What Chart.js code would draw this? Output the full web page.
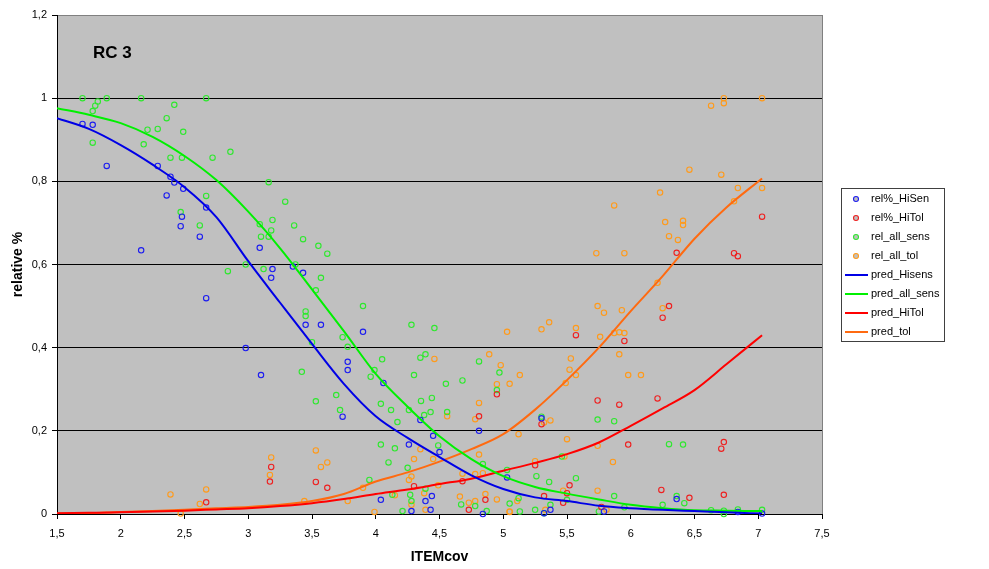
<!DOCTYPE html>
<html lang="en">

<head>
    <meta charset="UTF-8">
    <title>RC 3</title>
    <script src="https://cdnjs.cloudflare.com/ajax/libs/Chart.js/4.4.0/chart.umd.min.js"></script>
    <style>
        body { margin: 0; background: #fff; }
        #wrap { width: 989px; height: 569px; }
    </style>
</head>

<body>
    <div id="wrap"><canvas id="myChart" width="989" height="569"></canvas></div>
    <script>
        // observed shares, high-sensitivity group
        var hiSenX = [1.70, 1.78, 1.89, 2.29, 2.39, 2.42, 2.49, 2.36, 2.48, 2.47, 2.67, 2.62, 2.16, 3.09, 2.67, 3.19,
            3.18, 3.35, 3.43, 3.45, 3.57, 3.90, 2.98, 3.78, 3.78, 3.10, 3.74, 4.06, 4.35, 4.45, 4.50, 4.26, 4.81, 5.03,
            5.30, 4.04, 4.39, 4.44, 4.28, 4.43, 4.84, 5.37, 5.32, 5.79, 6.36, 6.84, 7.03];
        var hiSenY = [0.938, 0.936, 0.837, 0.837, 0.811, 0.797, 0.782, 0.766, 0.715, 0.692, 0.737, 0.667, 0.634, 0.640,
            0.519, 0.589, 0.568, 0.595, 0.580, 0.455, 0.455, 0.438, 0.399, 0.366, 0.346, 0.334, 0.234, 0.315, 0.226,
            0.188, 0.149, 0.167, 0.200, 0.088, 0.230, 0.034, 0.031, 0.043, 0.007, 0.010, 0, 0.010, 0.002, 0.006, 0.036,
            0.005, 0.001];

        // observed shares, high-tolerance group
        var hiTolX = [2.67, 3.18, 3.17, 3.53, 3.62, 4.30, 4.81, 4.68, 4.73, 4.86, 4.95, 5.25, 5.32, 5.30, 5.57, 5.95,
            6.30, 6.25, 5.74, 5.91, 6.21, 5.98, 5.52, 5.50, 6.24, 5.47, 5.77, 7.03, 6.36, 6.81, 6.84, 6.73, 6.71, 6.46,
            6.73];
        var hiTolY = [0.028, 0.113, 0.078, 0.077, 0.063, 0.067, 0.235, 0.079, 0.010, 0.034, 0.288, 0.117, 0.043, 0.216,
            0.430, 0.416, 0.500, 0.472, 0.273, 0.263, 0.278, 0.167, 0.069, 0.050, 0.058, 0.027, 0.017, 0.715, 0.628,
            0.627, 0.620, 0.173, 0.157, 0.039, 0.046];

        // all sensitive
        var allSensX = [1.70, 1.89, 2.16, 2.67, 1.82, 1.80, 1.78, 2.42, 2.36, 2.21, 2.29, 2.49, 1.78, 2.18, 2.39, 2.48,
            2.72, 2.86, 3.16, 3.29, 2.67, 2.47, 2.62, 3.09, 3.19, 3.36, 3.10, 3.18, 3.16,
            3.43, 3.55, 3.62, 2.98, 2.84, 3.12, 3.37, 3.57, 3.53, 3.90, 3.45, 3.45, 3.74, 3.78, 3.50, 4.28, 4.46, 4.39,
            4.35, 4.05, 3.42, 3.53, 3.69, 3.72,
            3.99, 3.96, 4.30, 4.55, 4.68, 4.81, 4.97, 4.95, 4.04, 4.12, 4.26, 4.355, 4.38, 4.44, 4.43, 4.17, 4.56, 4.04,
            4.15, 4.10, 4.49, 4.25, 3.95, 4.84, 5.03, 5.26, 5.36, 4.39, 4.13, 4.27, 4.28, 4.67, 4.78, 5.05, 5.12, 4.21,
            4.87, 5.13, 5.25, 5.37,
            5.30, 5.74, 5.87, 6.30, 6.41, 5.46, 5.57, 5.32, 5.50, 5.87, 5.95, 6.25, 6.36, 5.75, 6.42, 6.63, 6.73, 6.73,
            6.84, 7.03];
        var allSensY = [1.00, 1.00, 1.00, 1.00, 0.992, 0.982, 0.969, 0.984, 0.952, 0.924, 0.926, 0.919, 0.893, 0.889,
            0.857, 0.857, 0.857, 0.871, 0.798, 0.751, 0.765, 0.726, 0.694, 0.697, 0.707, 0.694, 0.667, 0.682, 0.667,
            0.661, 0.645, 0.626, 0.600, 0.584, 0.589, 0.600, 0.568, 0.538, 0.500, 0.487, 0.476, 0.425, 0.402, 0.413,
            0.455, 0.447, 0.384, 0.376, 0.372, 0.342, 0.271, 0.286, 0.250,
            0.346, 0.330, 0.334, 0.313, 0.321, 0.367, 0.340, 0.298, 0.265, 0.250, 0.250, 0.272, 0.238, 0.279, 0.245,
            0.221, 0.245, 0.167, 0.158, 0.124, 0.165, 0.111, 0.082, 0.120, 0.106, 0.091, 0.077, 0.061, 0.046, 0.046,
            0.031, 0.023, 0.019, 0.025, 0.038, 0.007, 0.007, 0.006, 0.010, 0.022,
            0.234, 0.227, 0.223, 0.168, 0.167, 0.138, 0.086, 0.002, 0.034, 0.043, 0.016, 0.022, 0.043, 0.006, 0.026,
            0.009, 0.008, 0, 0.011, 0.010];

        // all tolerant
        var allTolX = [2.39, 2.47, 2.62, 2.67, 3.18, 3.17, 3.44, 3.78, 3.53, 3.57, 3.62, 3.90, 3.99, 4.15, 4.26, 4.28,
            4.30, 4.35, 4.45, 4.46, 4.49, 4.38, 4.39, 4.28, 4.56, 4.78, 4.81, 4.81, 4.68, 4.78, 4.84, 4.66, 4.73, 4.78,
            4.86, 4.95, 5.05, 5.11, 5.03, 4.89, 4.98, 5.13, 5.05, 4.95, 5.30, 5.36, 5.12, 5.25, 5.37, 5.33,
            5.57, 5.74, 5.79, 5.93, 5.76, 5.87, 5.91, 5.95, 6.25, 5.53, 5.52, 5.57, 5.49, 5.91, 5.98, 6.08, 5.32, 5.50,
            5.74, 5.86, 5.48, 5.47, 5.74, 5.81, 5.05,
            6.73, 6.73, 6.63, 7.03, 6.46, 6.71, 6.23, 6.84, 7.03, 5.87, 6.81, 6.27, 6.41, 6.41, 6.30, 6.37, 5.73, 5.95,
            6.21];
        var allTolY = [0.047, 0.001, 0.024, 0.059, 0.136, 0.094, 0.031, 0.031, 0.153, 0.113, 0.124, 0.063, 0.005, 0.045,
            0.082, 0.090, 0.132, 0.156, 0.132, 0.373, 0.069, 0.050, 0.010, 0.022, 0.235, 0.228, 0.267, 0.143, 0.097,
            0.096, 0.098, 0.042, 0.027, 0.031, 0.048, 0.035, 0.005, 0.031, 0.438, 0.384, 0.358, 0.334, 0.313, 0.312,
            0.444, 0.461, 0.192, 0.127, 0.225, 0.010,
            0.447, 0.500, 0.484, 0.490, 0.426, 0.435, 0.437, 0.435, 0.495, 0.374, 0.347, 0.334, 0.315, 0.384, 0.334,
            0.334, 0.220, 0.180, 0.164, 0.125, 0.138, 0.056, 0.056, 0.010, 0.006,
            1.000, 0.988, 0.982, 1.000, 0.828, 0.816, 0.773, 0.784, 0.784, 0.742, 0.752, 0.702, 0.705, 0.695, 0.668,
            0.659, 0.627, 0.627, 0.556];

        // fitted curves
        var predX = [1.5, 1.75, 2, 2.25, 2.5, 2.75, 3, 3.25, 3.5, 3.75, 4, 4.25, 4.5, 4.75, 5, 5.25, 5.5, 5.75, 6,
            6.25, 6.5, 6.75, 7.03];
        var predHiSens = [0.952, 0.926, 0.887, 0.840, 0.786, 0.714, 0.608, 0.508, 0.409, 0.313, 0.235, 0.183, 0.137,
            0.093, 0.060, 0.040, 0.031, 0.020, 0.014, 0.010, 0.007, 0.004, 0.001];
        var predAllSens = [0.976, 0.960, 0.940, 0.907, 0.861, 0.803, 0.727, 0.639, 0.540, 0.440, 0.337, 0.258, 0.187,
            0.132, 0.091, 0.065, 0.049, 0.035, 0.022, 0.014, 0.009, 0.008, 0.007];
        var predHiTol = [0.002, 0.003, 0.004, 0.006, 0.008, 0.011, 0.014, 0.019, 0.026, 0.036, 0.048, 0.059, 0.072,
            0.085, 0.104, 0.123, 0.144, 0.172, 0.212, 0.254, 0.298, 0.360, 0.430];
        var predTol = [0.001, 0.002, 0.005, 0.007, 0.010, 0.014, 0.017, 0.022, 0.031, 0.048, 0.078, 0.100, 0.126,
            0.156, 0.192, 0.251, 0.322, 0.400, 0.488, 0.572, 0.662, 0.737, 0.807];

        var xTickLabels = ['1,5', '2', '2,5', '3', '3,5', '4', '4,5', '5', '5,5', '6', '6,5', '7', '7,5'];
        var yTickLabels = ['0', '0,2', '0,4', '0,6', '0,8', '1', '1,2'];

        function pts(xs, ys) {
            var out = [];
            for (let i = 0; i < xs.length; i++) out.push({ x: xs[i], y: ys[i] });
            return out;
        }

        function dots(label, xs, ys, color) {
            return {
                label: label,
                data: pts(xs, ys),
                showLine: false,
                pointStyle: 'circle',
                pointRadius: 2.7,
                pointBorderWidth: 1.1,
                pointBorderColor: color,
                pointBackgroundColor: 'rgba(0,0,0,0)',
                borderColor: color,
                clip: false,
                order: 1
            };
        }

        function curve(label, ys, color) {
            return {
                label: label,
                data: pts(predX, ys),
                showLine: true,
                borderColor: color,
                borderWidth: 2,
                pointRadius: 0,
                fill: false,
                cubicInterpolationMode: 'monotone',
                order: 0
            };
        }

        // gray plot area, caption, side legend
        var decor = {
            id: 'decor',
            beforeDraw(chart) {
                var c = chart.ctx, a = chart.chartArea;
                c.save();
                c.fillStyle = '#fff';
                c.fillRect(0, 0, chart.width, chart.height);
                c.fillStyle = '#c0c0c0';
                c.fillRect(a.left, a.top, a.right - a.left, a.bottom - a.top);
                c.restore();
            },
            afterDraw(chart) {
                var c = chart.ctx, a = chart.chartArea;
                c.save();
                c.strokeStyle = '#808080';
                c.lineWidth = 1;
                c.beginPath();
                c.moveTo(a.right + 0.5, a.top);
                c.lineTo(a.right + 0.5, a.bottom);
                c.stroke();

                c.fillStyle = '#000';
                c.font = 'bold 17px Arial, "Liberation Sans", sans-serif';
                c.textBaseline = 'alphabetic';
                c.fillText('RC 3', 93, 58);

                // legend
                var bx = 841, by = 188, bw = 103, bh = 153;
                c.fillStyle = '#fff';
                c.fillRect(bx, by, bw, bh);
                c.strokeStyle = '#404040';
                c.strokeRect(bx + 0.5, by + 0.5, bw, bh);
                c.font = '11px Arial, "Liberation Sans", sans-serif';
                c.textBaseline = 'middle';
                chart.data.datasets.forEach(function (ds, i) {
                    var y = 199 + i * 19;
                    if (ds.showLine) {
                        c.strokeStyle = ds.borderColor;
                        c.lineWidth = 2;
                        c.beginPath();
                        c.moveTo(845, y);
                        c.lineTo(868, y);
                        c.stroke();
                    } else {
                        c.beginPath();
                        c.arc(856, y, 2.5, 0, Math.PI * 2);
                        c.fillStyle = '#c0c0c0';
                        c.fill();
                        c.strokeStyle = ds.pointBorderColor;
                        c.lineWidth = 1.1;
                        c.stroke();
                    }
                    c.fillStyle = '#000';
                    c.fillText(ds.label, 871, y);
                });
                c.restore();
            }
        };

        Chart.defaults.font.family = 'Arial, "Liberation Sans", sans-serif';
        Chart.defaults.font.size = 11;
        Chart.defaults.color = '#000';

        var ctx = document.getElementById('myChart');
        var myChart = new Chart(ctx, {
            type: 'scatter',
            data: {
                datasets: [
                    dots('rel%_HiSen', hiSenX, hiSenY, '#1c1cf0'),
                    dots('rel%_HiTol', hiTolX, hiTolY, '#ee2020'),
                    dots('rel_all_sens', allSensX, allSensY, '#2ee82e'),
                    dots('rel_all_tol', allTolX, allTolY, '#ff9a1a'),
                    curve('pred_Hisens', predHiSens, '#0000e6'),
                    curve('pred_all_sens', predAllSens, '#00f000'),
                    curve('pred_HiTol', predHiTol, '#ff0000'),
                    curve('pred_tol', predTol, '#ff6a10')
                ]
            },
            options: {
                responsive: false,
                animation: false,
                events: [],
                layout: { padding: { top: 15, right: 167, left: 0, bottom: 0 } },
                plugins: {
                    legend: { display: false },
                    tooltip: { enabled: false }
                },
                scales: {
                    x: {
                        type: 'linear',
                        min: 1.5,
                        max: 7.5,
                        afterFit: function (scale) { scale.height = 55; },
                        ticks: {
                            stepSize: 0.5,
                            padding: 8,
                            maxRotation: 0,
                            autoSkip: false,
                            callback: function (v, i) { return xTickLabels[i]; }
                        },
                        grid: {
                            drawOnChartArea: false,
                            drawTicks: true,
                            tickLength: 5,
                            tickColor: '#000'
                        },
                        border: { color: '#000', width: 1 },
                        title: {
                            display: true,
                            text: 'ITEMcov',
                            font: { size: 14, weight: 'bold' },
                            padding: { top: 0, bottom: 3 }
                        }
                    },
                    y: {
                        min: 0,
                        max: 1.2,
                        afterFit: function (scale) { scale.width = 57; },
                        ticks: {
                            stepSize: 0.2,
                            padding: 5,
                            callback: function (v, i) { return yTickLabels[i]; }
                        },
                        grid: {
                            color: function (c) { return c.tick && c.tick.value > 1.1 ? '#808080' : '#000'; },
                            lineWidth: 1,
                            tickLength: 5,
                            tickColor: '#000'
                        },
                        border: { color: '#000', width: 1 },
                        title: {
                            display: true,
                            text: 'relative %',
                            font: { size: 14, weight: 'bold' },
                            padding: { top: 10, bottom: 0 }
                        }
                    }
                }
            },
            plugins: [decor]
        });
    </script>
</body>

</html>
